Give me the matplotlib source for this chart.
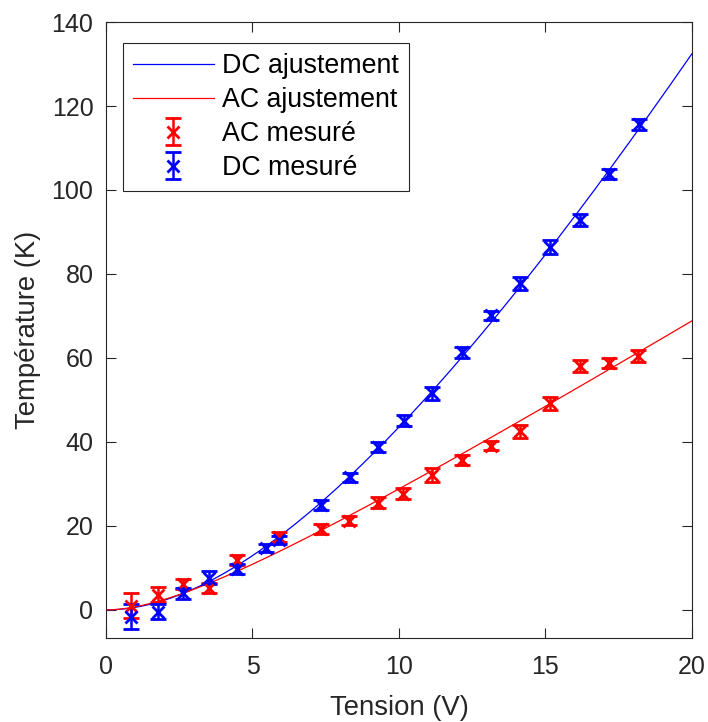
import numpy as np
import matplotlib
matplotlib.use('Agg')
import matplotlib.pyplot as plt

plt.rcParams['font.family'] = ['Liberation Sans', 'DejaVu Sans']

ac_v = [0.84, 1.76, 2.64, 3.53, 4.46, 5.92, 7.35, 8.30, 9.29, 10.15,
        11.14, 12.14, 13.14, 14.14, 15.15, 16.17, 17.17, 18.17]
ac_t = [1.0, 3.6, 6.2, 5.2, 11.9, 17.3, 19.3, 21.2, 25.5, 27.7,
        32.1, 35.7, 39.1, 42.5, 49.2, 58.1, 58.7, 60.5]
ac_err = [3.0, 1.8, 1.2, 1.2, 1.2, 1.2, 1.2, 1.1, 1.3, 1.3,
          1.6, 1.2, 1.1, 1.6, 1.6, 1.4, 1.2, 1.4]

dc_v = [0.84, 1.76, 2.64, 3.53, 4.46, 5.45, 5.92, 7.35, 8.32, 9.29,
        10.17, 11.14, 12.14, 13.14, 14.14, 15.17, 16.17, 17.17, 18.20]
dc_t = [-1.6, -0.4, 4.0, 7.7, 9.7, 14.7, 16.7, 25.0, 31.6, 38.7,
        45.1, 51.6, 61.3, 70.2, 77.8, 86.4, 92.9, 103.8, 115.7]
dc_err = [3.0, 1.8, 1.3, 1.5, 1.2, 1.0, 1.0, 1.1, 1.1, 1.2,
          1.2, 1.6, 1.2, 1.1, 1.5, 1.7, 1.4, 1.2, 1.3]


def fit(x, y):
    # least squares fit of T = a V^2 / (1 + b V)
    x = np.asarray(x)
    y = np.asarray(y)
    best = None
    for b in np.linspace(0, 1, 2001):
        g = x ** 2 / (1 + b * x)
        a = np.dot(g, y) / np.dot(g, g)
        r = np.sum((a * g - y) ** 2)
        if best is None or r < best[2]:
            best = (a, b, r)
    return best[0], best[1]


vv = np.linspace(0, 20, 400)
a_dc, b_dc = fit(dc_v, dc_t)
a_ac, b_ac = fit(ac_v, ac_t)

fig = plt.figure(figsize=(7.08, 7.22), dpi=100)
ax = fig.add_axes([0.1497, 0.1163, 0.8277, 0.8532])

l1, = ax.plot(vv, a_dc * vv ** 2 / (1 + b_dc * vv), color='#0000ff', lw=0.9)
l2, = ax.plot(vv, a_ac * vv ** 2 / (1 + b_ac * vv), color='#ff0000', lw=0.9)
e1 = ax.errorbar(ac_v, ac_t, yerr=ac_err, fmt='x', color='#ff0000', ms=9, mew=2,
                 elinewidth=1.8, capsize=5.5, capthick=2.2)
e2 = ax.errorbar(dc_v, dc_t, yerr=dc_err, fmt='x', color='#0000ff', ms=9, mew=2,
                 elinewidth=1.8, capsize=5.5, capthick=2.2)

ax.set_xlim(0, 20)
ax.set_ylim(-6.7, 140)
ax.set_xticks([0, 5, 10, 15, 20])
ax.set_yticks(range(0, 141, 20))
ax.tick_params(direction='in', top=True, right=True, labelsize=18, colors='#262626',
               length=7, width=0.8)
ax.tick_params(axis='y', pad=9)
ax.tick_params(axis='x', pad=12)
for s in ax.spines.values():
    s.set_color('#262626')
    s.set_linewidth(0.8)
ax.set_xlabel('Tension (V)', fontsize=19.8, color='#262626', labelpad=11.5)
ax.set_ylabel('Température (K)', fontsize=19.8, color='#262626', labelpad=8)

leg = ax.legend([l1, l2, e1, e2], ['DC ajustement', 'AC ajustement', 'AC mesuré', 'DC mesuré'],
                loc='upper left', bbox_to_anchor=(0.029, 0.966), borderaxespad=0,
                fontsize=19.3, fancybox=False, edgecolor='#262626', framealpha=1,
                handlelength=3.0, handletextpad=0.33, borderpad=0.38, labelspacing=0.3)
leg.get_frame().set_linewidth(0.8)

fig.savefig('out.png', dpi=100)
